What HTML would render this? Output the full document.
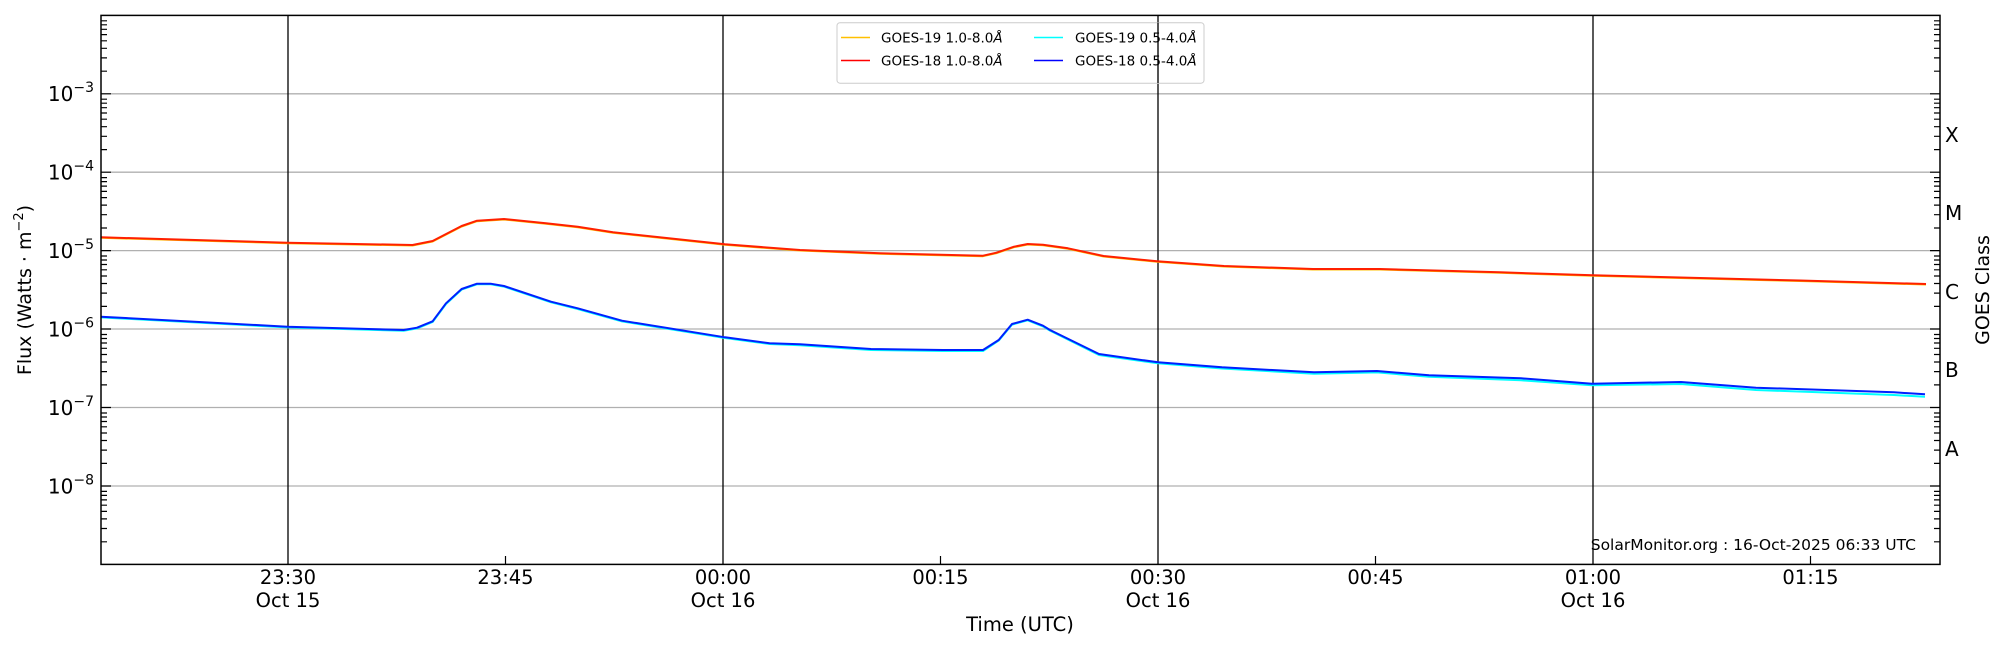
<!DOCTYPE html>
<html><head><meta charset="utf-8"><style>
html,body{margin:0;padding:0;background:#fff;}
svg{display:block;font-family:"DejaVu Sans","Liberation Sans",sans-serif;}
</style></head><body>
<svg width="2000" height="650" viewBox="0 0 2000 650" xmlns="http://www.w3.org/2000/svg">
<rect width="2000" height="650" fill="#fff"/>
<g stroke="#b0b0b0" stroke-width="1.3">
<line x1="101" x2="1940" y1="93.8" y2="93.8"/>
<line x1="101" x2="1940" y1="172.2" y2="172.2"/>
<line x1="101" x2="1940" y1="250.6" y2="250.6"/>
<line x1="101" x2="1940" y1="329" y2="329"/>
<line x1="101" x2="1940" y1="407.5" y2="407.5"/>
<line x1="101" x2="1940" y1="486" y2="486"/>
</g>
<g stroke="#000" stroke-width="1.3">
<line x1="288" x2="288" y1="15.4" y2="564.4"/>
<line x1="723" x2="723" y1="15.4" y2="564.4"/>
<line x1="1158" x2="1158" y1="15.4" y2="564.4"/>
<line x1="1593" x2="1593" y1="15.4" y2="564.4"/>
</g>
<g stroke="#000" stroke-width="1.2">
<line x1="505.5" x2="505.5" y1="564" y2="556"/>
<line x1="940.5" x2="940.5" y1="564" y2="556"/>
<line x1="1375.5" x2="1375.5" y1="564" y2="556"/>
<line x1="1810.5" x2="1810.5" y1="564" y2="556"/>
</g>
<rect x="837" y="22.7" width="367" height="60.5" rx="3" fill="#fff" fill-opacity="0.8" stroke="#ccc" stroke-width="1"/>
<g stroke-width="1.5">
<line x1="841" x2="870" y1="37.5" y2="37.5" stroke="#ffc000"/>
<line x1="841" x2="870" y1="60.5" y2="60.5" stroke="#ff0000"/>
<line x1="1034" x2="1063" y1="37.5" y2="37.5" stroke="#00ffff"/>
<line x1="1034" x2="1063" y1="60.5" y2="60.5" stroke="#0000ff"/>
</g>
<g font-size="13.5" fill="#000">
<text x="881" y="42.5">GOES-19 1.0-8.0<tspan font-style="italic">Å</tspan></text>
<text x="881" y="65.5">GOES-18 1.0-8.0<tspan font-style="italic">Å</tspan></text>
<text x="1075" y="42.5">GOES-19 0.5-4.0<tspan font-style="italic">Å</tspan></text>
<text x="1075" y="65.5">GOES-18 0.5-4.0<tspan font-style="italic">Å</tspan></text>
</g>
<line x1="1158" x2="1158" y1="22.7" y2="83" stroke="#000" stroke-width="1.3"/>
<g fill="none" stroke-width="2" stroke-linejoin="round">
<polyline stroke="#ffc000" points="101,237.8 287.5,243.2 412.5,245.5 432.6,241.5 461.6,226.5 477,221.2 504,219.5 546,223.8 577.7,227.2 613,232.8 725,244.8 800,250.5 880,253.8 983,256.2 996.4,253.2 1014,247.2 1027.7,244.5 1043,245.2 1068,248.8 1103.6,256.5 1157,261.8 1224,266.5 1313,269.5 1380,269.5 1500,272.8 1593,275.8 1700,278.5 1800,281 1926,284.5"/>
<polyline stroke="#ff2000" points="101,237.3 287.5,242.7 412.5,245 432.6,241 461.6,226 477,220.7 504,219 546,223.3 577.7,226.7 613,232.3 725,244.3 800,250 880,253.3 983,255.7 996.4,252.7 1014,246.7 1027.7,244 1043,244.7 1068,248.3 1103.6,256 1157,261.3 1224,266 1313,269 1380,269 1500,272.3 1593,275.3 1700,278 1800,280.5 1926,284"/>
<polyline stroke="#00ffff" points="101,317.4 287.5,327.4 403.6,330.8 417,328.4 432.6,322 446,304 461.6,289.6 477,284.3 490.6,284.3 504,286.6 551,302.3 577.7,309 622,321.4 725,338 769.6,344 800,345.2 871,350 943,351 983,351 998.7,340.6 1012,324.6 1027.7,320.3 1043,326.4 1050,330.6 1099,355 1158,363.3 1222,368.5 1314,373.7 1377,372.4 1429,376.8 1521,380.3 1592,385.3 1681,384 1756,390 1894,395 1925,396.8"/>
<polyline stroke="#0020ff" points="101,316.7 287.5,326.7 403.6,330 417,327.7 432.6,321.3 446,303.3 461.6,289 477,283.7 490.6,283.7 504,286 551,301.7 577.7,308.3 622,320.7 725,337.3 769.6,343.3 800,344.3 871,349 943,350 983,350 998.7,340 1012,324 1027.7,319.7 1043,325.7 1050,330 1099,354 1158,362.3 1222,367.3 1314,372.3 1377,371 1429,375.3 1521,378.3 1592,383.7 1681,382 1756,387.7 1894,392.3 1925,394.3"/>
</g>
<g stroke="#000" stroke-width="1.2">
<path d="M101,93.8h10M101,172.2h10M101,250.6h10M101,329h10M101,407.5h10M101,486h10M1940,93.8h-10M1940,172.2h-10M1940,250.6h-10M1940,329h-10M1940,407.5h-10M1940,486h-10"/>
<path id="minor" d="
M101,71.2h6M101,57.9h6M101,48.3h6M101,40.8h6M101,34.6h6M101,29.3h6M101,24.8h6M101,20.8h6
M101,149.6h6M101,136.3h6M101,126.7h6M101,119.2h6M101,113h6M101,107.7h6M101,103.2h6M101,99.2h6
M101,228h6M101,214.7h6M101,205.1h6M101,197.6h6M101,191.4h6M101,186.1h6M101,181.6h6M101,177.6h6
M101,306.4h6M101,293.1h6M101,283.5h6M101,276h6M101,269.8h6M101,264.5h6M101,260h6M101,256h6
M101,384.9h6M101,371.6h6M101,362h6M101,354.5h6M101,348.3h6M101,343h6M101,338.5h6M101,334.5h6
M101,463.4h6M101,450.1h6M101,440.5h6M101,433h6M101,426.8h6M101,421.5h6M101,417h6M101,413h6
M101,541.8h6M101,528.5h6M101,518.9h6M101,511.4h6M101,505.2h6M101,499.9h6M101,495.4h6M101,491.4h6"/>
<use href="#minor" transform="translate(2041,0) scale(-1,1)"/>
</g>
<rect x="101" y="15.4" width="1839" height="549" fill="none" stroke="#000" stroke-width="1.5"/>
<g font-size="20" fill="#000" text-anchor="end">
<text x="94" y="101">10<tspan dy="-9" font-size="14">−3</tspan></text>
<text x="94" y="179.5">10<tspan dy="-9" font-size="14">−4</tspan></text>
<text x="94" y="258">10<tspan dy="-9" font-size="14">−5</tspan></text>
<text x="94" y="336.5">10<tspan dy="-9" font-size="14">−6</tspan></text>
<text x="94" y="415">10<tspan dy="-9" font-size="14">−7</tspan></text>
<text x="94" y="493.5">10<tspan dy="-9" font-size="14">−8</tspan></text>
</g>
<text transform="translate(31,290) rotate(-90)" font-size="19" text-anchor="middle">Flux (Watts · m<tspan dy="-8" font-size="13">−2</tspan><tspan dy="8">)</tspan></text>
<g font-size="20" fill="#000">
<text x="1945" y="142">X</text>
<text x="1945" y="220">M</text>
<text x="1945" y="299">C</text>
<text x="1945" y="377">B</text>
<text x="1945" y="456">A</text>
</g>
<text transform="translate(1989,290) rotate(-90)" font-size="19" text-anchor="middle">GOES Class</text>
<g font-size="19.5" fill="#000" text-anchor="middle">
<text x="288" y="584">23:30</text><text x="288" y="607">Oct 15</text>
<text x="505.5" y="584">23:45</text>
<text x="723" y="584">00:00</text><text x="723" y="607">Oct 16</text>
<text x="940.5" y="584">00:15</text>
<text x="1158" y="584">00:30</text><text x="1158" y="607">Oct 16</text>
<text x="1375.5" y="584">00:45</text>
<text x="1593" y="584">01:00</text><text x="1593" y="607">Oct 16</text>
<text x="1810.5" y="584">01:15</text>
<text x="1020" y="631">Time (UTC)</text>
</g>
<text x="1916" y="550" font-size="15.5" text-anchor="end">SolarMonitor.org : 16-Oct-2025 06:33 UTC</text>
</svg>
</body></html>
